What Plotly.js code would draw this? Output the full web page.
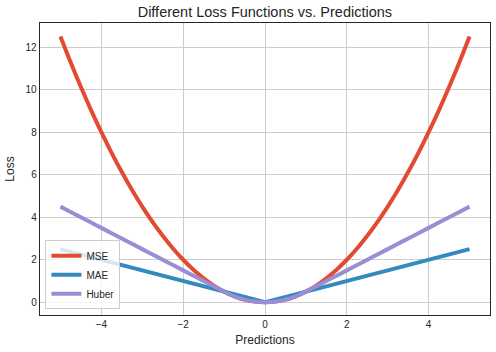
<!DOCTYPE html>
<html><head><meta charset="utf-8">
<script src="https://cdn.plot.ly/plotly-3.0.1.min.js"></script>
<style>html,body{margin:0;padding:0;background:#fff}#chart{width:496px;height:352px}</style>
</head><body><div id="chart"></div>
<script>
const predictions = [-5,-4.75,-4.5,-4.25,-4,-3.75,-3.5,-3.25,-3,-2.75,-2.5,-2.25,-2,-1.75,-1.5,-1.25,-1,-0.75,-0.5,-0.25,0,
  0.25,0.5,0.75,1,1.25,1.5,1.75,2,2.25,2.5,2.75,3,3.25,3.5,3.75,4,4.25,4.5,4.75,5];
const mseLoss = [12.5,11.28125,10.125,9.03125,8,7.03125,6.125,5.28125,4.5,3.78125,3.125,2.53125,2,1.53125,1.125,0.78125,0.5,0.28125,0.125,0.03125,0,
  0.03125,0.125,0.28125,0.5,0.78125,1.125,1.53125,2,2.53125,3.125,3.78125,4.5,5.28125,6.125,7.03125,8,9.03125,10.125,11.28125,12.5];
const maeLoss = [2.5,2.375,2.25,2.125,2,1.875,1.75,1.625,1.5,1.375,1.25,1.125,1,0.875,0.75,0.625,0.5,0.375,0.25,0.125,0,
  0.125,0.25,0.375,0.5,0.625,0.75,0.875,1,1.125,1.25,1.375,1.5,1.625,1.75,1.875,2,2.125,2.25,2.375,2.5];
const huberLoss = [4.5,4.25,4,3.75,3.5,3.25,3,2.75,2.5,2.25,2,1.75,1.5,1.25,1,0.75,0.5,0.28125,0.125,0.03125,0,
  0.03125,0.125,0.28125,0.5,0.75,1,1.25,1.5,1.75,2,2.25,2.5,2.75,3,3.25,3.5,3.75,4,4.25,4.5];
const seriesNames = ['MSE','MAE','Huber'];
const colors = ['#E24A33','#348ABD','#988ED5'];

const ys = [mseLoss, maeLoss, huberLoss];
const traces = ys.map((y,i)=>({
  x: predictions, y: y, type:'scatter', mode:'lines', name: seriesNames[i],
  line:{color:colors[i], width:4, shape: i===1?'linear':'spline'}
}));
const font = {family:'"Liberation Sans", Arial, sans-serif', color:'#262626'};
const layout = {
  width:496, height:352,
  margin:{l:40, r:6, t:23, b:37},
  paper_bgcolor:'#fff', plot_bgcolor:'#fff',
  font: Object.assign({size:10}, font),
  title:{text:'Different Loss Functions vs. Predictions', x:0.534, xanchor:'center', y:0.965, yanchor:'middle', font:Object.assign({size:14.5}, font)},
  xaxis:{range:[-5.5,5.5], dtick:2, tick0:0, showgrid:true, gridcolor:'#cccccc', gridwidth:1, zeroline:false,
    showline:true, mirror:true, linecolor:'#262626', linewidth:1.3, ticks:'', ticklen:0,
    tickfont:Object.assign({size:10}, font),
    title:{text:'Predictions', standoff:6, font:Object.assign({size:12}, font)}},
  yaxis:{range:[-0.6,13.14], dtick:2, tick0:0, showgrid:true, gridcolor:'#cccccc', gridwidth:1, zeroline:false,
    showline:true, mirror:true, linecolor:'#262626', linewidth:1.3, ticks:'', ticklen:0,
    tickfont:Object.assign({size:10}, font),
    title:{text:'Loss', standoff:8, font:Object.assign({size:12}, font)}},
  legend:{x:0.012, y:0.02, xanchor:'left', yanchor:'bottom', bgcolor:'rgba(255,255,255,0.8)', bordercolor:'#cccccc', borderwidth:1,
    font:Object.assign({size:10}, font), tracegroupgap:0, itemwidth:30},
  showlegend:true
};
Plotly.newPlot('chart', traces, layout, {displayModeBar:false, staticPlot:true});
</script>
</body></html>
